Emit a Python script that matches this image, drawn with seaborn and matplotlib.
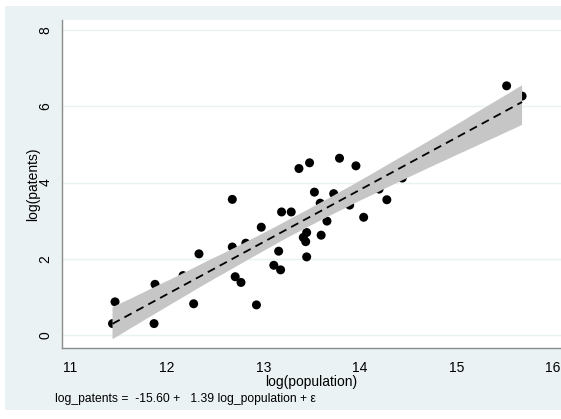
import matplotlib
matplotlib.use("Agg")
import matplotlib.pyplot as plt
import seaborn as sns
import numpy as np
import pandas as pd
from matplotlib.patches import Rectangle

log_population = [11.466, 11.44, 11.88, 11.87, 12.17, 12.28, 12.335, 12.68, 12.68, 12.82,
                  12.71, 12.77, 12.93, 12.98, 13.16, 13.11, 13.18, 13.19, 13.29, 13.37,
                  13.48, 13.53, 13.59, 13.415, 13.45, 13.44, 13.45, 13.60, 13.66, 13.73,
                  13.79, 13.895, 13.96, 14.04, 14.20, 14.28, 14.44, 15.52, 15.68]
log_patents = [0.87, 0.30, 1.33, 0.30, 1.56, 0.82, 2.13, 3.56, 2.31, 2.41,
               1.53, 1.38, 0.79, 2.83, 2.20, 1.83, 1.71, 3.23, 3.23, 4.37,
               4.52, 3.75, 3.46, 2.56, 2.69, 2.45, 2.05, 2.62, 2.99, 3.71,
               4.64, 3.41, 4.44, 3.09, 3.83, 3.55, 4.12, 6.54, 6.27]
x_ticks = [11, 12, 13, 14, 15, 16]
y_ticks = [0, 2, 4, 6, 8]
note = "log_patents =  -15.60 +   1.39 log_population + \u03b5"

df = pd.DataFrame({"log_population": log_population, "log_patents": log_patents})

sns.set_style("white")
plt.rcParams['font.family'] = ['Liberation Sans', 'DejaVu Sans']

W, H = 561, 419
fig = plt.figure(figsize=(W / 100, H / 100), dpi=100)
fig.patch.set_facecolor("white")
bg = Rectangle((5 / W, (H - 410) / H), (W - 5) / W, (410 - 6) / H,
               transform=fig.transFigure, facecolor="#eaf2f3", edgecolor="none", zorder=-10)
fig.add_artist(bg)

ax = fig.add_axes([62 / W, (H - 348) / H, (W - 62) / W, (348 - 20) / H])
ax.set_facecolor("white")
ax.set_zorder(1)

sns.scatterplot(data=df, x="log_population", y="log_patents", ax=ax,
                color="black", s=42, edgecolor="none", linewidth=0, zorder=3)
sns.regplot(data=df, x="log_population", y="log_patents", ax=ax, scatter=False,
            ci=95, n_boot=2000, seed=3, truncate=True,
            line_kws={"color": "black", "linewidth": 1.3, "linestyle": (0, (4.5, 3.0)), "zorder": 5})
# style CI band like the reference (opaque grey)
for coll in ax.collections:
    if coll.__class__.__name__ in ("PolyCollection", "FillBetweenPolyCollection"):
        coll.set_facecolor("#c6c6c6")
        coll.set_alpha(1)
        coll.set_edgecolor("none")
        coll.set_zorder(4)

ax.set_xlim(10.917, 16.083)
ax.set_ylim(-0.341, 8.268)
ax.set_xticks(x_ticks)
ax.set_yticks(y_ticks)
ax.set_yticklabels([str(t) for t in y_ticks], rotation=90, va="center")
ax.grid(axis="y", color="#eaf2f3", linewidth=1.0, zorder=1)
ax.set_axisbelow(True)

for s in ["top", "right"]:
    ax.spines[s].set_visible(False)
for s in ["left", "bottom"]:
    ax.spines[s].set_color("#8c8c8c")
    ax.spines[s].set_linewidth(1.0)

ax.tick_params(axis="both", direction="out", length=5, width=1, color="#8c8c8c",
               labelsize=10, labelcolor="black", pad=4)
ax.tick_params(axis="y", pad=2)

ax.set_xlabel("log(population)", fontsize=10, color="black", labelpad=0)
ax.set_ylabel("log(patents)", fontsize=10, color="black", labelpad=-1)

fig.text(55 / W, (H - 399) / H, note, fontsize=8.7, color="black", va="center", ha="left")

fig.savefig("out.png", dpi=100, facecolor=fig.get_facecolor())
